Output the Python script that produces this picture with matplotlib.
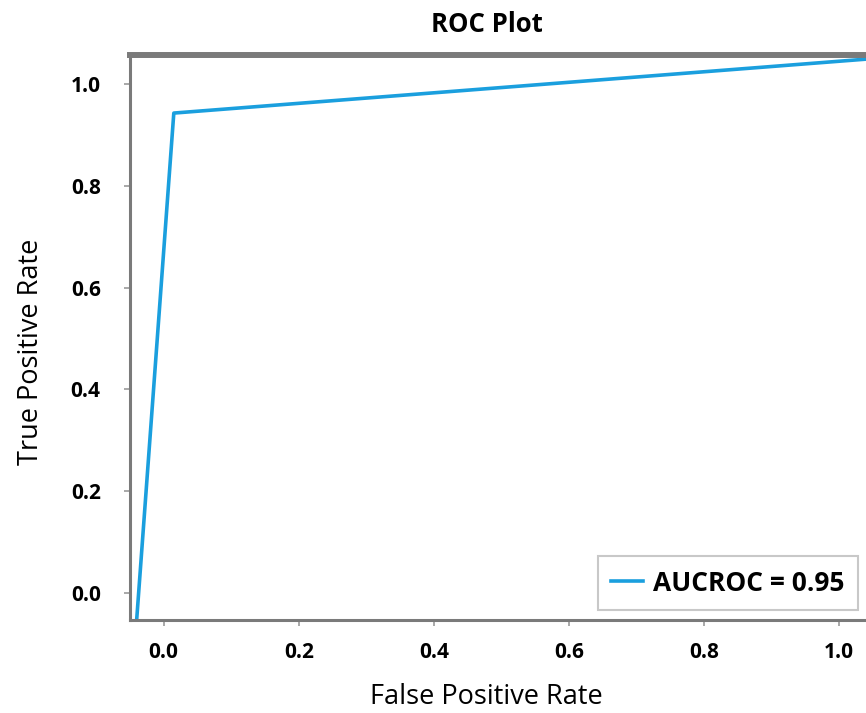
import matplotlib
matplotlib.use('Agg')
from matplotlib import pyplot as plt

# ROC curve points
fpr = [-0.04, 0.015, 1.05]
tpr = [-0.053, 0.943, 1.05]
auc_label = 'AUCROC = 0.95'
ticks = [0.0, 0.2, 0.4, 0.6, 0.8, 1.0]

plt.rcParams['font.family'] = ['Open Sans', 'DejaVu Sans']

fig = plt.figure(figsize=(8.66, 7.13), dpi=100)
ax = fig.add_axes([0.150, 0.1304, 0.858, 0.7924])

ax.plot(fpr, tpr, color='#1a9fde', linewidth=2.6, label=auc_label)

ax.set_xlim(-0.05, 1.05)
ax.set_ylim(-0.053, 1.057)
ax.set_xticks(ticks)
ax.set_yticks(ticks)
ax.set_xticklabels(['%.1f' % t for t in ticks], fontweight='bold', fontsize=15)
ax.set_yticklabels(['%.1f' % t for t in ticks], fontweight='bold', fontsize=15)
ax.tick_params(colors='#999999', labelcolor='black', length=4, width=1.2)
ax.tick_params(axis='x', pad=12)
ax.tick_params(axis='y', pad=17)

for side in ['left', 'bottom', 'right']:
	ax.spines[side].set_color('#7a7a7a')
	ax.spines[side].set_linewidth(2.2)
ax.spines['top'].set_color('#7a7a7a')
ax.spines['top'].set_linewidth(4.3)

ax.set_xlabel('False Positive Rate', fontsize=19.5)
ax.set_ylabel('True Positive Rate', fontsize=19.5)
ax.xaxis.set_label_coords(0.48, -0.112)
ax.yaxis.set_label_coords(-0.114, 0.474)
fig.text(0.562, 0.965, 'ROC Plot', fontsize=18.5, fontweight='bold', ha='center', va='center')

leg = ax.legend(loc='lower right', bbox_to_anchor=(0.98, 0.018), borderaxespad=0,
	prop={'weight': 'bold', 'size': 19}, fancybox=False, framealpha=1, edgecolor='#c8c8c8',
	handlelength=1.2, handletextpad=0.4, borderpad=0.5)
leg.get_frame().set_linewidth(1.5)

fig.savefig('out.png', dpi=100)
